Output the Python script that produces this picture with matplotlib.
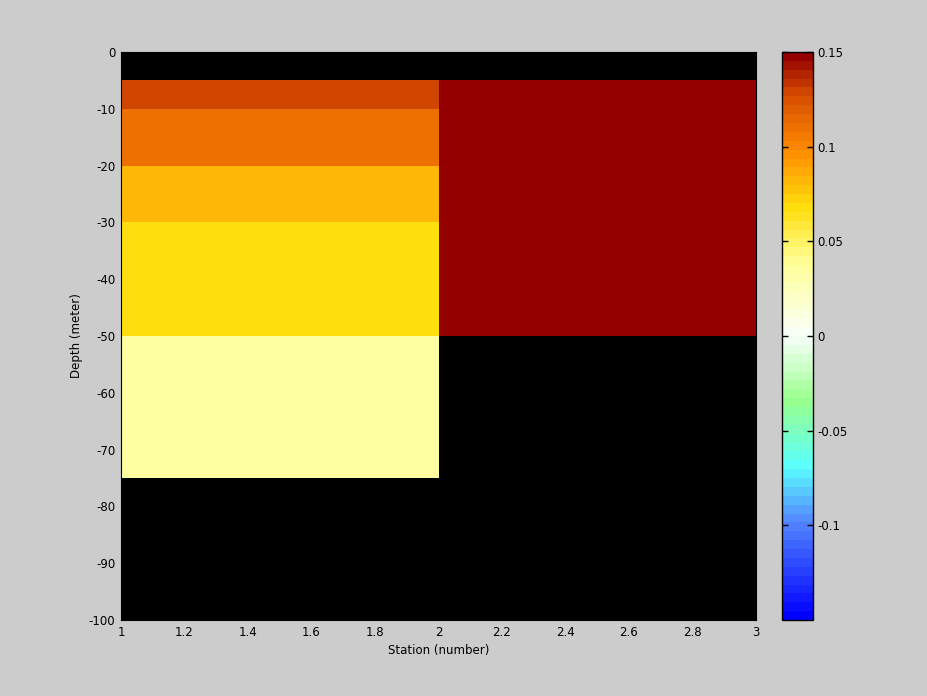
import matplotlib
matplotlib.use("Agg")
import matplotlib.pyplot as plt
import numpy as np
from matplotlib.colors import LinearSegmentedColormap

plt.rcParams["axes.unicode_minus"] = False

# grid edges (pcolor style)
station_edges = [1, 2, 3]
depth_edges = [0, -5, -10, -20, -30, -50, -75, -100]

# cell values, top to bottom; nan = no data (drawn black)
station1 = [np.nan, 0.127, 0.112, 0.084, 0.068, 0.035, np.nan]
station2 = [np.nan, 0.15, 0.15, 0.15, 0.15, np.nan, np.nan]

cbar_ticks = [-0.1, -0.05, 0, 0.05, 0.1, 0.15]
cbar_labels = ["-0.1", "-0.05", "0", "0.05", "0.1", "0.15"]

BG = "#cccccc"

cmap = LinearSegmentedColormap.from_list(
    "bwr_custom",
    [
        (0.00, (0.0, 0.0, 1.0)),
        (0.17, (0.33, 0.53, 1.0)),
        (0.265, (0.35, 1.0, 1.0)),
        (0.385, (0.6, 1.0, 0.55)),
        (0.50, (0.97, 1.0, 0.98)),
        (0.63, (1.0, 1.0, 0.6)),
        (0.73, (1.0, 0.87, 0.05)),
        (0.83, (1.0, 0.55, 0.0)),
        (0.93, (0.84, 0.30, 0.0)),
        (1.00, (0.58, 0.0, 0.0)),
    ],
    N=64,
)

values = np.ma.masked_invalid(np.column_stack([station1, station2]))

fig = plt.figure(figsize=(9.28, 6.96), dpi=100, facecolor=BG)
ax = fig.add_axes([121 / 928, 76 / 696, 635 / 928, 568 / 696])
ax.set_facecolor("black")
mesh = ax.pcolormesh(station_edges, depth_edges, values, cmap=cmap,
                     vmin=-0.15, vmax=0.15, shading="flat")
ax.set_xlim(1, 3)
ax.set_ylim(-100, 0)
ax.set_xticks(np.arange(1, 3.01, 0.2))
ax.set_xticklabels(["1", "1.2", "1.4", "1.6", "1.8", "2", "2.2", "2.4", "2.6", "2.8", "3"])
ax.set_yticks(np.arange(-100, 1, 10))
ax.tick_params(direction="in", labelsize=8.5, length=0, pad=4)
ax.set_xlabel("Station (number)", fontsize=8.5, labelpad=4)
ax.set_ylabel("Depth (meter)", fontsize=8.5, labelpad=4)

cax = fig.add_axes([782 / 928, 76 / 696, 31 / 928, 568 / 696])
cb = fig.colorbar(mesh, cax=cax)
cb.set_ticks(cbar_ticks)
cb.set_ticklabels(cbar_labels)
cb.outline.set_linewidth(1.0)
cax.tick_params(direction="in", length=4, width=1, labelsize=8.5, left=True, right=True, pad=3)

fig.savefig("out.png", dpi=100, facecolor=BG)
